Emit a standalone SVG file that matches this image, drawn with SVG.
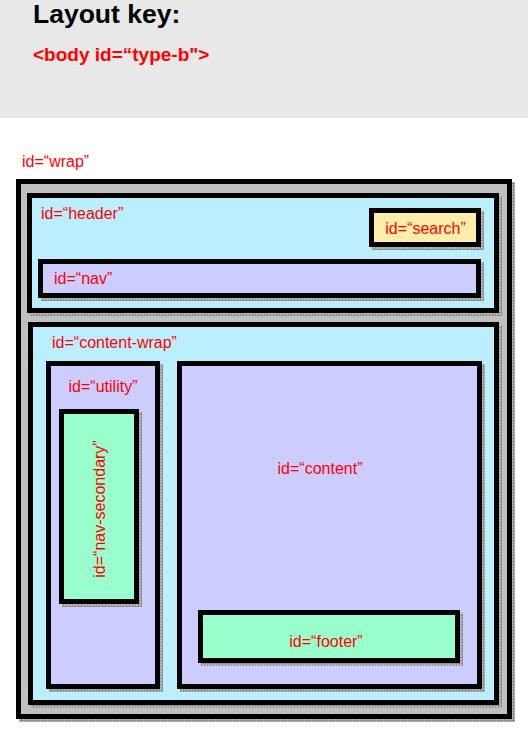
<svg xmlns="http://www.w3.org/2000/svg" width="528" height="731" viewBox="0 0 528 731">
<style>
.box{stroke:#000;stroke-width:5}
.sh{fill:url(#shade)}
.lbl{font-family:"Liberation Sans",Arial,sans-serif;font-size:16px;fill:#ff0000}
.mid{text-anchor:middle}
.cyan{fill:#bbeeff}
.lav{fill:#ccccff}
.mint{fill:#99ffcc}
.yel{fill:#ffeeaa}
</style>
<defs>
<pattern id="shade" width="3" height="3" patternUnits="userSpaceOnUse">
<rect width="3" height="3" fill="#b8b8b8"/>
<rect width="1" height="3" fill="#909090"/>
<rect width="3" height="1" fill="#909090"/>
</pattern>
</defs>
<rect x="0" y="0" width="528" height="118" fill="#e8e8e8"/>
<text x="33" y="23" font-family="Liberation Sans,Arial,sans-serif" font-size="26.5" font-weight="bold" fill="#000">Layout key:</text>
<text x="33" y="61" font-family="Liberation Sans,Arial,sans-serif" font-size="19" font-weight="bold" fill="#ff0000">&lt;body id=“type-b"&gt;</text>
<text class="lbl" x="22" y="167">id=“wrap”</text>

<g id="wrap">
<rect class="sh" x="19" y="182" width="496" height="540"/>
<rect class="box" x="18.5" y="181.5" width="491" height="535" fill="#c0c0c0"/>
</g>
<g id="header">
<rect class="sh" x="30" y="196" width="472" height="120"/>
<rect class="box cyan" x="29.5" y="195.5" width="467" height="115"/>
<text class="lbl" x="41" y="219">id=“header”</text>
</g>
<g id="search">
<rect class="sh" x="372" y="211" width="112" height="39"/>
<rect class="box yel" x="371.5" y="210.5" width="107" height="34"/>
<text class="lbl mid" x="425.5" y="234">id=“search”</text>
</g>
<g id="nav">
<rect class="sh" x="41" y="262" width="443" height="39"/>
<rect class="box lav" x="40.5" y="261.5" width="438" height="34"/>
<text class="lbl" x="54" y="284">id=“nav”</text>
</g>
<g id="content-wrap">
<rect class="sh" x="31" y="325" width="471" height="383"/>
<rect class="box cyan" x="30.5" y="324.5" width="466" height="378"/>
<text class="lbl" x="52" y="348">id=“content-wrap”</text>
</g>
<g id="utility">
<rect class="sh" x="49" y="364" width="114" height="328"/>
<rect class="box lav" x="48.5" y="363.5" width="109" height="323"/>
<text class="lbl mid" x="103" y="392">id=“utility”</text>
</g>
<g id="nav-secondary">
<rect class="sh" x="62" y="412" width="80" height="195"/>
<rect class="box mint" x="61.5" y="411.5" width="75" height="190"/>
<text class="lbl mid" x="104.5" y="509" transform="rotate(-90 104.5 509)">id=“nav-secondary”</text>
</g>
<g id="content">
<rect class="sh" x="180" y="364" width="305" height="328"/>
<rect class="box lav" x="179.5" y="363.5" width="300" height="323"/>
<text class="lbl mid" x="320" y="474">id=“content”</text>
</g>
<g id="footer">
<rect class="sh" x="201" y="613" width="262" height="53"/>
<rect class="box mint" x="200.5" y="612.5" width="257" height="48"/>
<text class="lbl mid" x="326" y="647">id=“footer”</text>
</g>
</svg>
